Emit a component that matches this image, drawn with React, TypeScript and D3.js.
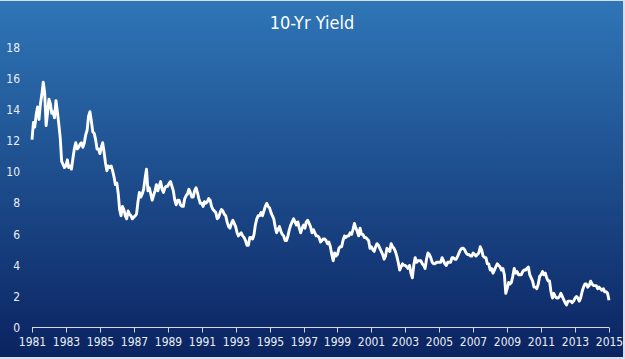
import * as React from 'react';
import * as d3 from 'd3';

// 10-year Treasury yield, one row per year (Jan..Dec)
const startYear = 1981;
const monthlyYield: number[][] = [
	[12.1, 13.2, 12.9, 13.7, 14.2, 13.4, 14.4, 15.0, 15.8, 15.1, 13.0, 13.8], // 1981
	[14.7, 14.4, 13.8, 13.9, 13.5, 14.6, 13.9, 13.1, 12.2, 10.7, 10.5, 10.3], // 1982
	[10.4, 10.8, 10.3, 10.4, 10.2, 10.9, 11.5, 11.9, 11.5, 11.6, 11.8, 11.9], // 1983
	[11.6, 11.9, 12.4, 12.7, 13.6, 13.9, 13.3, 12.6, 12.5, 12.1, 11.5, 11.5], // 1984
	[11.2, 11.6, 11.9, 11.3, 10.6, 10.1, 10.4, 10.3, 10.4, 10.1, 9.7, 9.2], // 1985
	[9.3, 8.6, 7.6, 7.2, 7.8, 7.6, 7.2, 7.0, 7.5, 7.3, 7.2, 7.0], // 1986
	[7.1, 7.2, 7.3, 8.1, 8.7, 8.4, 8.6, 8.9, 9.6, 10.2, 8.8, 9.0], // 1987
	[8.6, 8.2, 8.5, 8.8, 9.2, 8.8, 9.1, 9.4, 8.9, 8.7, 9.0, 9.1], // 1988
	[9.1, 9.3, 9.4, 9.1, 8.8, 8.2, 7.9, 8.2, 8.2, 7.9, 7.8, 7.8], // 1989
	[8.3, 8.5, 8.6, 8.9, 8.7, 8.4, 8.4, 8.8, 9.0, 8.7, 8.3, 8.0], // 1990
	[8.0, 7.8, 8.1, 8.0, 8.1, 8.3, 8.2, 7.8, 7.6, 7.5, 7.4, 7.0], // 1991
	[7.1, 7.4, 7.6, 7.5, 7.3, 7.2, 6.8, 6.5, 6.4, 6.7, 6.9, 6.7], // 1992
	[6.5, 6.1, 5.9, 6.0, 6.1, 5.9, 5.8, 5.6, 5.3, 5.3, 5.8, 5.8], // 1993
	[5.7, 6.0, 6.6, 7.0, 7.2, 7.2, 7.4, 7.2, 7.5, 7.8, 8.0, 7.8], // 1994
	[7.7, 7.4, 7.2, 7.0, 6.5, 6.1, 6.3, 6.5, 6.2, 6.0, 5.9, 5.6], // 1995
	[5.6, 5.9, 6.3, 6.6, 6.8, 7.0, 6.8, 6.6, 6.8, 6.4, 6.1, 6.4], // 1996
	[6.6, 6.4, 6.8, 6.9, 6.7, 6.5, 6.1, 6.3, 6.1, 5.9, 5.9, 5.8], // 1997
	[5.5, 5.6, 5.7, 5.7, 5.6, 5.4, 5.5, 5.2, 4.7, 4.3, 4.8, 4.6], // 1998
	[4.7, 5.1, 5.2, 5.2, 5.6, 5.9, 5.8, 5.9, 5.9, 6.1, 6.0, 6.3], // 1999
	[6.7, 6.4, 6.2, 5.9, 6.4, 6.0, 6.0, 5.8, 5.8, 5.7, 5.6, 5.1], // 2000
	[5.2, 5.0, 4.9, 5.2, 5.4, 5.3, 5.1, 4.9, 4.7, 4.4, 4.6, 5.1], // 2001
	[5.0, 4.9, 5.4, 5.2, 5.1, 4.9, 4.6, 4.2, 3.7, 3.9, 4.1, 4.0], // 2002
	[4.0, 3.9, 3.8, 4.0, 3.5, 3.2, 4.0, 4.5, 4.2, 4.3, 4.3, 4.3], // 2003
	[4.1, 4.0, 3.8, 4.4, 4.8, 4.7, 4.5, 4.2, 4.1, 4.1, 4.2, 4.2], // 2004
	[4.2, 4.2, 4.5, 4.3, 4.1, 4.0, 4.2, 4.2, 4.2, 4.5, 4.5, 4.4], // 2005
	[4.4, 4.6, 4.8, 5.0, 5.1, 5.1, 5.0, 4.8, 4.7, 4.7, 4.6, 4.6], // 2006
	[4.8, 4.7, 4.6, 4.7, 4.8, 5.2, 5.0, 4.6, 4.5, 4.5, 4.1, 4.1], // 2007
	[3.7, 3.8, 3.5, 3.7, 3.9, 4.1, 4.0, 3.9, 3.7, 3.8, 3.4, 2.2], // 2008
	[2.5, 2.9, 2.8, 2.9, 3.3, 3.8, 3.5, 3.6, 3.4, 3.4, 3.4, 3.6], // 2009
	[3.7, 3.7, 3.8, 3.9, 3.4, 3.2, 3.0, 2.6, 2.6, 2.5, 2.8, 3.3], // 2010
	[3.4, 3.6, 3.4, 3.5, 3.2, 3.0, 3.0, 2.3, 1.9, 2.2, 2.0, 1.9], // 2011
	[1.9, 2.0, 2.2, 2.0, 1.8, 1.6, 1.45, 1.7, 1.7, 1.7, 1.6, 1.7], // 2012
	[1.9, 2.0, 1.9, 1.7, 1.9, 2.3, 2.6, 2.8, 2.8, 2.6, 2.7, 2.98], // 2013
	[2.8, 2.7, 2.7, 2.7, 2.5, 2.6, 2.5, 2.4, 2.5, 2.3, 2.3, 2.2], // 2014
	[1.75], // 2015
];

const yTicks = [0, 2, 4, 6, 8, 10, 12, 14, 16, 18];
const xTickYears = [
	1981, 1983, 1985, 1987, 1989, 1991, 1993, 1995, 1997, 1999, 2001, 2003, 2005, 2007, 2009, 2011, 2013,
	2015,
];

const W = 625;
const H = 359;
const font = "'Liberation Sans Narrow', 'DejaVu Sans Condensed', 'Liberation Sans', sans-serif";

export default function App() {
	const points: [Date, number][] = [];
	monthlyYield.forEach((row, yi) =>
		row.forEach((v, m) => points.push([new Date(startYear + yi, m, 1), v])),
	);

	const x = d3
		.scaleTime()
		.domain([new Date(1981, 0, 1), new Date(2015, 0, 1)])
		.range([32, 609]);
	const y = d3.scaleLinear().domain([0, 18]).range([327.5, 48]);

	const line = d3
		.line<[Date, number]>()
		.x(d => x(d[0]))
		.y(d => y(d[1]));

	return (
		<>
			<style>{`body{margin:0}`}</style>
			<svg width={W} height={H} style={{ display: 'block', background: '#d7e1ee' }}>
				<defs>
					<linearGradient id='bg' x1='0' y1='0' x2='0' y2='1'>
						<stop offset='0' stopColor='#2f76b7' />
						<stop offset='1' stopColor='#0b2361' />
					</linearGradient>
				</defs>
				<rect x={0} y={1} width={623} height={356} fill='url(#bg)' />

				<text x={312} y={29} textAnchor='middle' fill='#fff' fontSize={18} fontFamily={font}>
					10-Yr Yield
				</text>

				{yTicks.map(t => (
					<text
						key={t}
						x={20}
						y={y(t)}
						dy='0.35em'
						textAnchor='end'
						fill='#e8eef7'
						fontSize={12}
						fontFamily={font}
					>
						{t}
					</text>
				))}

				<line x1={x.range()[0]} x2={x.range()[1]} y1={y(0)} y2={y(0)} stroke='#d9d9d9' strokeWidth={1} />
				{xTickYears.map(yr => {
					const px = Math.round(x(new Date(yr, 0, 1))) + 0.5;
					return (
						<g key={yr}>
							<line x1={px} x2={px} y1={y(0)} y2={y(0) + 5} stroke='#d9d9d9' />
							<text x={px} y={346} textAnchor='middle' fill='#e8eef7' fontSize={12} fontFamily={font}>
								{yr}
							</text>
						</g>
					);
				})}

				<path d={line(points) ?? ''} fill='none' stroke='#fff' strokeWidth={2.9} strokeLinejoin='round' />
			</svg>
		</>
	);
}
